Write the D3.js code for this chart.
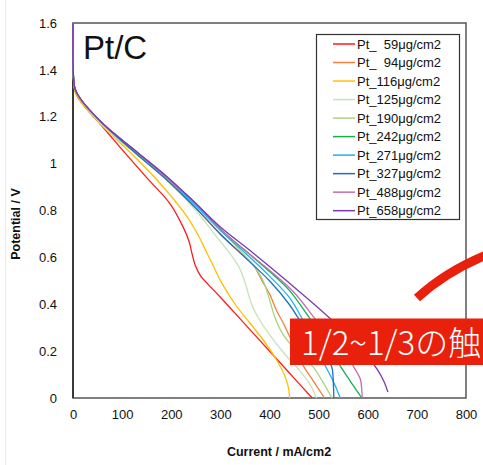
<!DOCTYPE html>
<html>
<head>
<meta charset="utf-8">
<title>Pt/C polarization</title>
<script src="https://d3js.org/d3.v7.min.js"></script>
<style>
  body { margin: 0; background: #fff; }
  svg { font-family: "Liberation Sans", Arial, sans-serif; }
  .axis text { font-size: 13px; fill: #111; }
  .axis path, .axis line { display: none; }
  .curve { fill: none; stroke-width: 1.3px; }
  .legend text { font-size: 13px; white-space: pre; fill: #111; }
  .title { font-size: 12.5px; font-weight: bold; fill: #111; }
</style>
</head>
<body>
<script>
// current (mA/cm2), potential (V)
let pt59 = [[0,1.6],[0,1.45],[1,1.36],[4,1.31],[14,1.27],[55,1.17],[100,1.06],[150,0.94],[197,0.83],[224,0.73],[236,0.67],[243,0.61],[249,0.565],[260,0.52],[275,0.485],[300,0.43],[350,0.315],[411,0.175],[450,0.085],[487,0]];
let pt94 = [[0,1.6],[0,1.45],[1,1.36],[4,1.31],[14,1.27],[61,1.16],[130,1.04],[191,0.93],[250,0.81],[299,0.70],[340,0.62],[366,0.57],[385,0.50],[401,0.44],[415,0.37],[428,0.32],[450,0.22],[468,0.14],[490,0.07],[512,0]];
let pt116 = [[0,1.6],[0,1.45],[1,1.36],[4,1.31],[14,1.27],[61,1.16],[130,1.02],[167,0.94],[200,0.86],[230,0.78],[256,0.69],[270,0.63],[283,0.575],[303,0.49],[330,0.40],[360,0.32],[390,0.24],[415,0.16],[430,0.10],[438,0.05],[441,0]];
let pt125 = [[0,1.6],[0,1.45],[1,1.37],[4,1.32],[14,1.28],[61,1.16],[130,1.04],[191,0.93],[250,0.80],[299,0.67],[322,0.61],[340,0.55],[352,0.48],[362,0.41],[375,0.35],[400,0.27],[430,0.19],[460,0.12],[482,0.06],[496,0]];
let pt190 = [[0,1.6],[0,1.45],[1,1.37],[4,1.32],[14,1.28],[61,1.17],[130,1.04],[191,0.94],[250,0.82],[300,0.72],[340,0.63],[370,0.56],[387,0.50],[400,0.42],[410,0.35],[425,0.28],[455,0.20],[486,0.14],[527,0]];
let pt242 = [[0,1.6],[0,1.45],[1,1.37],[4,1.32],[14,1.28],[61,1.17],[130,1.05],[191,0.94],[250,0.83],[300,0.72],[350,0.63],[400,0.54],[440,0.46],[482,0.34],[510,0.26],[543,0.14],[565,0.07],[588,0]];
let pt271 = [[0,1.6],[0,1.45],[1,1.37],[4,1.32],[14,1.28],[61,1.17],[130,1.05],[191,0.94],[250,0.82],[300,0.715],[350,0.62],[400,0.52],[440,0.43],[466,0.34],[490,0.24],[513,0.14],[530,0.07],[544,0]];
let pt327 = [[0,1.6],[0,1.45],[1,1.37],[4,1.32],[14,1.28],[61,1.17],[130,1.04],[191,0.93],[250,0.81],[300,0.70],[350,0.60],[400,0.50],[440,0.40],[462,0.33],[490,0.25],[515,0.18],[527,0.13],[530,0.06],[531,0]];
let pt488 = [[0,1.6],[0,1.45],[1,1.37],[4,1.32],[14,1.28],[61,1.17],[130,1.05],[191,0.94],[250,0.83],[300,0.72],[350,0.63],[400,0.545],[450,0.45],[492,0.34],[530,0.24],[560,0.17],[575,0.12],[585,0.08],[588,0.03],[589,0]];
let pt658 = [[0,1.6],[0,1.45],[1,1.37],[4,1.32],[14,1.28],[61,1.17],[130,1.05],[191,0.945],[250,0.83],[300,0.73],[366,0.62],[435,0.50],[523,0.34],[570,0.24],[600,0.175],[620,0.12],[633,0.07],[641,0.025]];

let seriesData = [pt59, pt94, pt116, pt125, pt190, pt242, pt271, pt327, pt488, pt658];
let labels = ["Pt_  59\u03bcg/cm2", "Pt_  94\u03bcg/cm2", "Pt_116\u03bcg/cm2", "Pt_125\u03bcg/cm2", "Pt_190\u03bcg/cm2",
              "Pt_242\u03bcg/cm2", "Pt_271\u03bcg/cm2", "Pt_327\u03bcg/cm2", "Pt_488\u03bcg/cm2", "Pt_658\u03bcg/cm2"];
let colors = ["#ff1a1a", "#f08040", "#ffc000", "#c8e2b8", "#a8d47e", "#14b050", "#1ab4f0", "#1f6fc0", "#c070b0", "#7a3ab0"];

let xTicks = [0, 100, 200, 300, 400, 500, 600, 700, 800];
let yTicks = [0, 0.2, 0.4, 0.6, 0.8, 1, 1.2, 1.4, 1.6];

let width = 483;
let height = 465;

let svg = d3.select("body").append("svg")
    .attr("width", width)
    .attr("height", height);

let x = d3.scaleLinear().domain([0, 800]).range([73, 466]);
let y = d3.scaleLinear().domain([0, 1.6]).range([398, 23]);

// faint edge of the screenshot
svg.append("line")
    .attr("x1", 5.5).attr("x2", 5.5).attr("y1", 0).attr("y2", height)
    .attr("stroke", "#ececec");

// axes (labels only)
svg.append("g")
    .attr("class", "axis")
    .attr("transform", "translate(0," + y(0) + ")")
    .call(d3.axisBottom(x).tickValues(xTicks).tickSize(0).tickPadding(12));

svg.append("g")
    .attr("class", "axis")
    .attr("transform", "translate(" + x(0) + ",0)")
    .call(d3.axisLeft(y).tickValues(yTicks).tickSize(0).tickPadding(16).tickFormat(d3.format("~g")));

// frame
svg.append("rect")
    .attr("x", x(0)).attr("y", y(1.6))
    .attr("width", x(800) - x(0)).attr("height", y(0) - y(1.6))
    .attr("fill", "none").attr("stroke", "#555").attr("stroke-width", 1.5);
svg.append("line")
    .attr("x1", x(0)).attr("x2", x(0)).attr("y1", y(1.6)).attr("y2", y(0))
    .attr("stroke", "#222").attr("stroke-width", 1.5);

// curves
let line = d3.line()
    .x(d => x(d[0]))
    .y(d => y(d[1]))
    .curve(d3.curveCatmullRom.alpha(0.5));

svg.append("g")
    .selectAll("path")
    .data(seriesData)
    .join("path")
    .attr("class", "curve")
    .attr("stroke", (d, i) => colors[i])
    .attr("d", d => line(d));

// panel title
svg.append("text")
    .attr("x", 83).attr("y", 59)
    .attr("font-size", 33)
    .attr("fill", "#111")
    .text("Pt/C");

// legend
let legend = svg.append("g").attr("class", "legend");
legend.append("rect")
    .attr("x", 316.5).attr("y", 34.5).attr("width", 143).attr("height", 185)
    .attr("fill", "#fff").attr("stroke", "#333").attr("stroke-width", 1.2);
let rows = legend.selectAll("g.row")
    .data(labels)
    .join("g")
    .attr("class", "row")
    .attr("transform", (d, i) => "translate(0," + (44 + i * 18.52) + ")");
rows.append("line")
    .attr("x1", 333).attr("x2", 355)
    .attr("stroke", (d, i) => colors[i]).attr("stroke-width", 1.5);
rows.append("text")
    .attr("x", 357).attr("y", 4.6)
    .text(d => d);

// axis titles
svg.append("text")
    .attr("class", "title")
    .attr("x", 279).attr("y", 456)
    .attr("text-anchor", "middle")
    .text("Current / mA/cm2");
svg.append("text")
    .attr("class", "title")
    .attr("transform", "translate(20,224) rotate(-90)")
    .attr("text-anchor", "middle")
    .text("Potential / V");

// red annotation overlay
svg.append("path")
    .attr("d", "M417,298 Q445,272 486,255")
    .attr("fill", "none").attr("stroke", "#e8200c").attr("stroke-width", 9);
svg.append("rect")
    .attr("x", 290).attr("y", 318.5).attr("width", 200).attr("height", 46.5)
    .attr("fill", "#e8200c");
svg.append("text")
    .attr("x", 301).attr("y", 354.5)
    .attr("font-family", "'Noto Sans CJK JP', sans-serif")
    .attr("font-size", 33)
    .attr("font-weight", 300)
    .attr("fill", "#fff")
    .text("1/2~1/3の触");
</script>
</body>
</html>
